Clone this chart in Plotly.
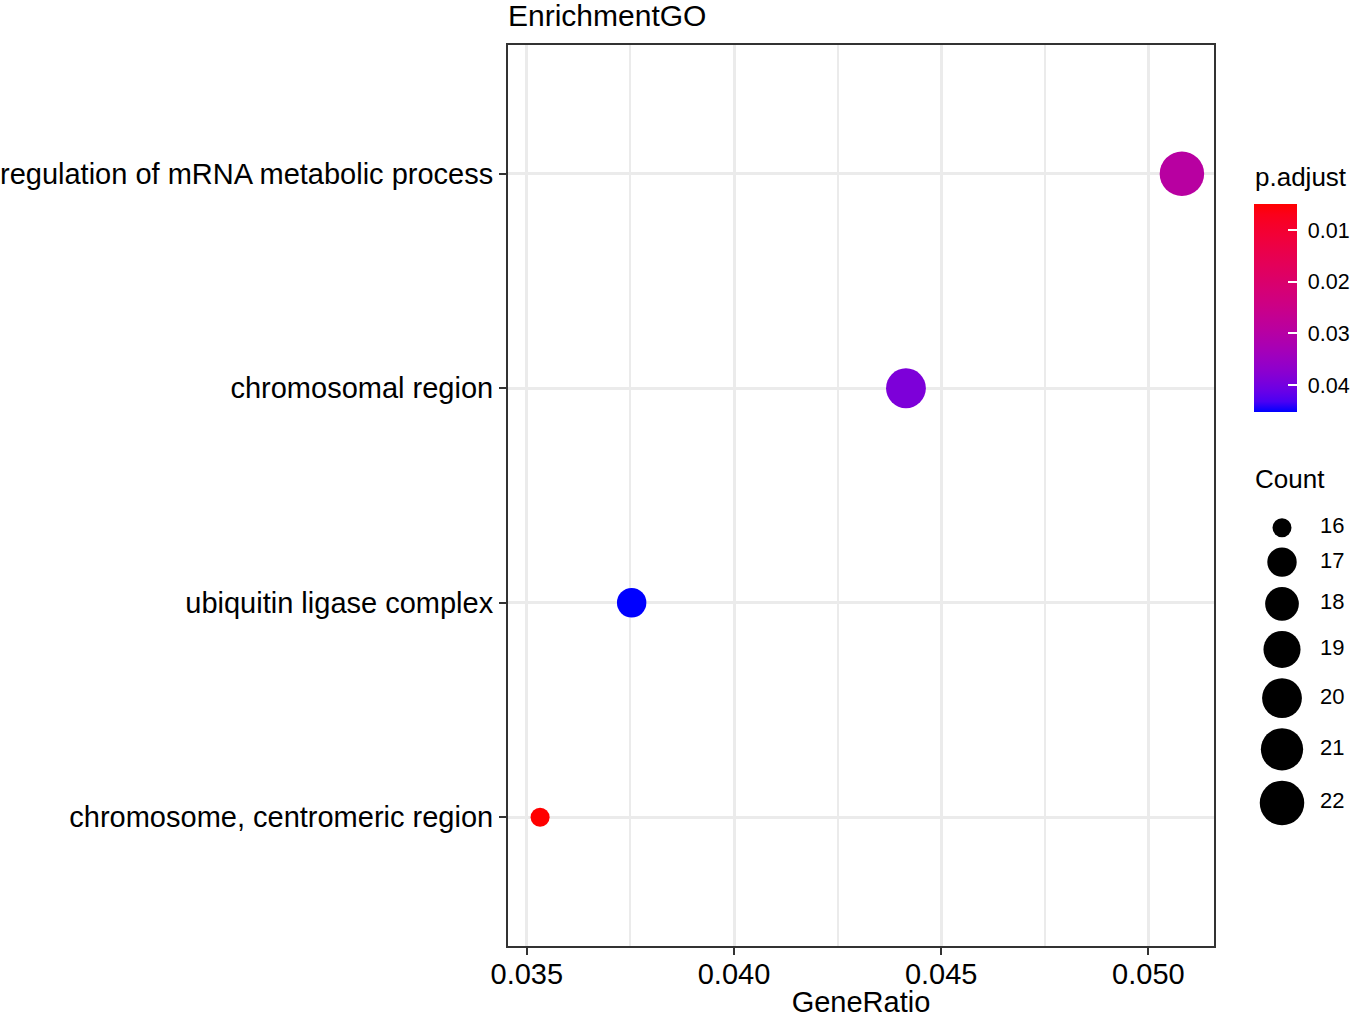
import numpy as np
import plotly.graph_objects as go

# ---------------- data ----------------
terms = ["chromosome, centromeric region",
         "ubiquitin ligase complex",
         "chromosomal region",
         "regulation of mRNA metabolic process"]
gene_ratio = [0.03532, 0.03753, 0.04415, 0.05081]
counts = [16, 17, 20, 22]
p_adjust = [0.00495, 0.04520, 0.03900, 0.02950]

x_tick_vals = [0.035, 0.040, 0.045, 0.050]
cbar_tick_vals = [0.01, 0.02, 0.03, 0.04]
legend_counts = [16, 17, 18, 19, 20, 21, 22]

# ---------------- helpers (style) ----------------
W, H = 1355, 1018
ML, MR, MT, MB = 508, 0, 45, 72
PW, PH = W - ML - MR, H - MT - MB
FONT = "Liberation Sans, Arial, sans-serif"


def px_x(p):
    return (p - ML) / PW


def px_y(p):
    return 1 - (p - MT) / PH


def diam(c, lo=16, hi=22, dmin=19.0, dmax=44.5):
    c = np.asarray(c, dtype=float)
    return dmin + (dmax - dmin) * np.sqrt((c - lo) / (hi - lo))


def srgb2lin(c):
    c = np.asarray(c, float)
    return np.where(c <= 0.04045, c / 12.92, ((c + 0.055) / 1.055) ** 2.4)


def lin2srgb(c):
    c = np.clip(c, 0, 1)
    return np.where(c <= 0.0031308, 12.92 * c, 1.055 * c ** (1 / 2.4) - 0.055)


M = np.array([[0.4124, 0.3576, 0.1805],
              [0.2126, 0.7152, 0.0722],
              [0.0193, 0.1192, 0.9505]])
WP = np.array([0.95047, 1.0, 1.08883])


def rgb2lab(rgb):
    xyz = M @ srgb2lin(np.array(rgb) / 255.0) / WP
    f = np.where(xyz > (6 / 29) ** 3, np.cbrt(xyz), xyz / (3 * (6 / 29) ** 2) + 4 / 29)
    return np.array([116 * f[1] - 16, 500 * (f[0] - f[1]), 200 * (f[1] - f[2])])


def lab2rgb(lab):
    L, a, b = lab
    fy = (L + 16) / 116
    fx = fy + a / 500
    fz = fy - b / 200
    f = np.array([fx, fy, fz])
    xyz = np.where(f > 6 / 29, f ** 3, 3 * (6 / 29) ** 2 * (f - 4 / 29)) * WP
    rgb = lin2srgb(np.linalg.solve(M, xyz))
    return tuple(int(round(v * 255)) for v in rgb)


# colour driven by -p.adjust so the colourbar runs red (small p) at the top
lab_blue, lab_red = rgb2lab([0, 0, 255]), rgb2lab([255, 0, 0])
colorscale = []
for t in np.linspace(0, 1, 21):
    r, g, b = lab2rgb(lab_blue + (lab_red - lab_blue) * t)
    colorscale.append([float(t), f"rgb({r},{g},{b})"])
neg_p = [-v for v in p_adjust]

gr = np.array(gene_ratio)
span = gr.max() - gr.min()
x_range = [gr.min() - 0.05 * span, gr.max() + 0.05 * span]

# size-legend key positions (pixel units on a helper axis)
ld = diam(legend_counts)
ly = [527.7]
for i in range(1, len(ld)):
    ly.append(ly[-1] + (ld[i - 1] + ld[i]) / 2 + 10.2)

fig = go.Figure()

fig.add_trace(go.Scatter(
    x=gene_ratio, y=terms, mode="markers", showlegend=False,
    customdata=p_adjust, hovertemplate="%{y}<br>GeneRatio=%{x}<br>p.adjust=%{customdata}<extra></extra>",
    marker=dict(size=diam(counts), color=neg_p, colorscale=colorscale,
                cmin=min(neg_p), cmax=max(neg_p), opacity=1,
                line=dict(width=0), showscale=True,
                colorbar=dict(
                    x=px_x(1254), xanchor="left", y=px_y(204), yanchor="top",
                    lenmode="pixels", len=208, thicknessmode="pixels", thickness=43,
                    outlinewidth=0, xpad=0, ypad=0,
                    ticks="inside", ticklen=9, tickwidth=1.5, tickcolor="white",
                    tickvals=[-v for v in cbar_tick_vals],
                    ticktext=["\u00a0" + f"{v:.2f}" for v in cbar_tick_vals],
                    tickfont=dict(size=21.5, color="black", family=FONT)))))

fig.add_trace(go.Scatter(
    x=[1282] * len(legend_counts), y=ly, xaxis="x2", yaxis="y2",
    mode="markers", showlegend=False, hoverinfo="skip",
    marker=dict(size=ld, color="black", opacity=1, line=dict(width=0))))

fig.add_trace(go.Scatter(
    x=[1320] * len(legend_counts), y=ly, xaxis="x2", yaxis="y2",
    mode="text", text=[str(c) for c in legend_counts], textposition="middle right",
    textfont=dict(size=22, color="black", family=FONT),
    showlegend=False, hoverinfo="skip"))

fig.add_annotation(text="p.adjust", xref="paper", yref="paper",
                   x=px_x(1253), y=px_y(177), xanchor="left", yanchor="middle",
                   showarrow=False, font=dict(size=26, color="black", family=FONT))
fig.add_annotation(text="Count", xref="paper", yref="paper",
                   x=px_x(1253), y=px_y(479), xanchor="left", yanchor="middle",
                   showarrow=False, font=dict(size=26, color="black", family=FONT))

axis_common = dict(showline=True, linecolor="#333333", linewidth=2, mirror=True,
                   ticks="outside", ticklen=7, tickwidth=2, tickcolor="#333333",
                   showgrid=True, gridcolor="#EBEBEB", gridwidth=3, zeroline=False,
                   automargin=False,
                   tickfont=dict(size=29, color="black", family=FONT))

fig.update_layout(
    width=W, height=H,
    margin=dict(l=ML, r=MR, t=MT, b=MB, pad=0, autoexpand=False),
    paper_bgcolor="white", plot_bgcolor="white",
    font=dict(family=FONT, color="black"),
    title=dict(text="EnrichmentGO", x=px_x(508), xref="paper", xanchor="left",
               y=1 - 15 / H, yref="container", yanchor="middle",
               font=dict(size=30, color="black", family=FONT)),
    xaxis=dict(domain=[0, (1214 - ML) / PW], range=x_range,
               tickvals=x_tick_vals, tickformat=".3f", ticklabelstandoff=-6,
               minor=dict(tick0=0.0375, dtick=0.005, showgrid=True,
                          gridcolor="#EBEBEB", gridwidth=1.5, ticks=""),
               title=dict(text="GeneRatio", standoff=0,
                          font=dict(size=29, color="black", family=FONT)),
               **axis_common),
    yaxis=dict(type="category", categoryorder="array", categoryarray=terms,
               range=[-0.6, 3.6], **axis_common),
    xaxis2=dict(domain=[px_x(1240), 1.0], range=[1240, 1355], visible=False,
                anchor="y2"),
    yaxis2=dict(domain=[px_y(830), px_y(500)], range=[830, 500], visible=False,
                anchor="x2"),
)

fig.write_html("out.html", config={"displayModeBar": False, "responsive": False},
               post_script="document.body.style.margin='0';document.body.style.padding='0';")
